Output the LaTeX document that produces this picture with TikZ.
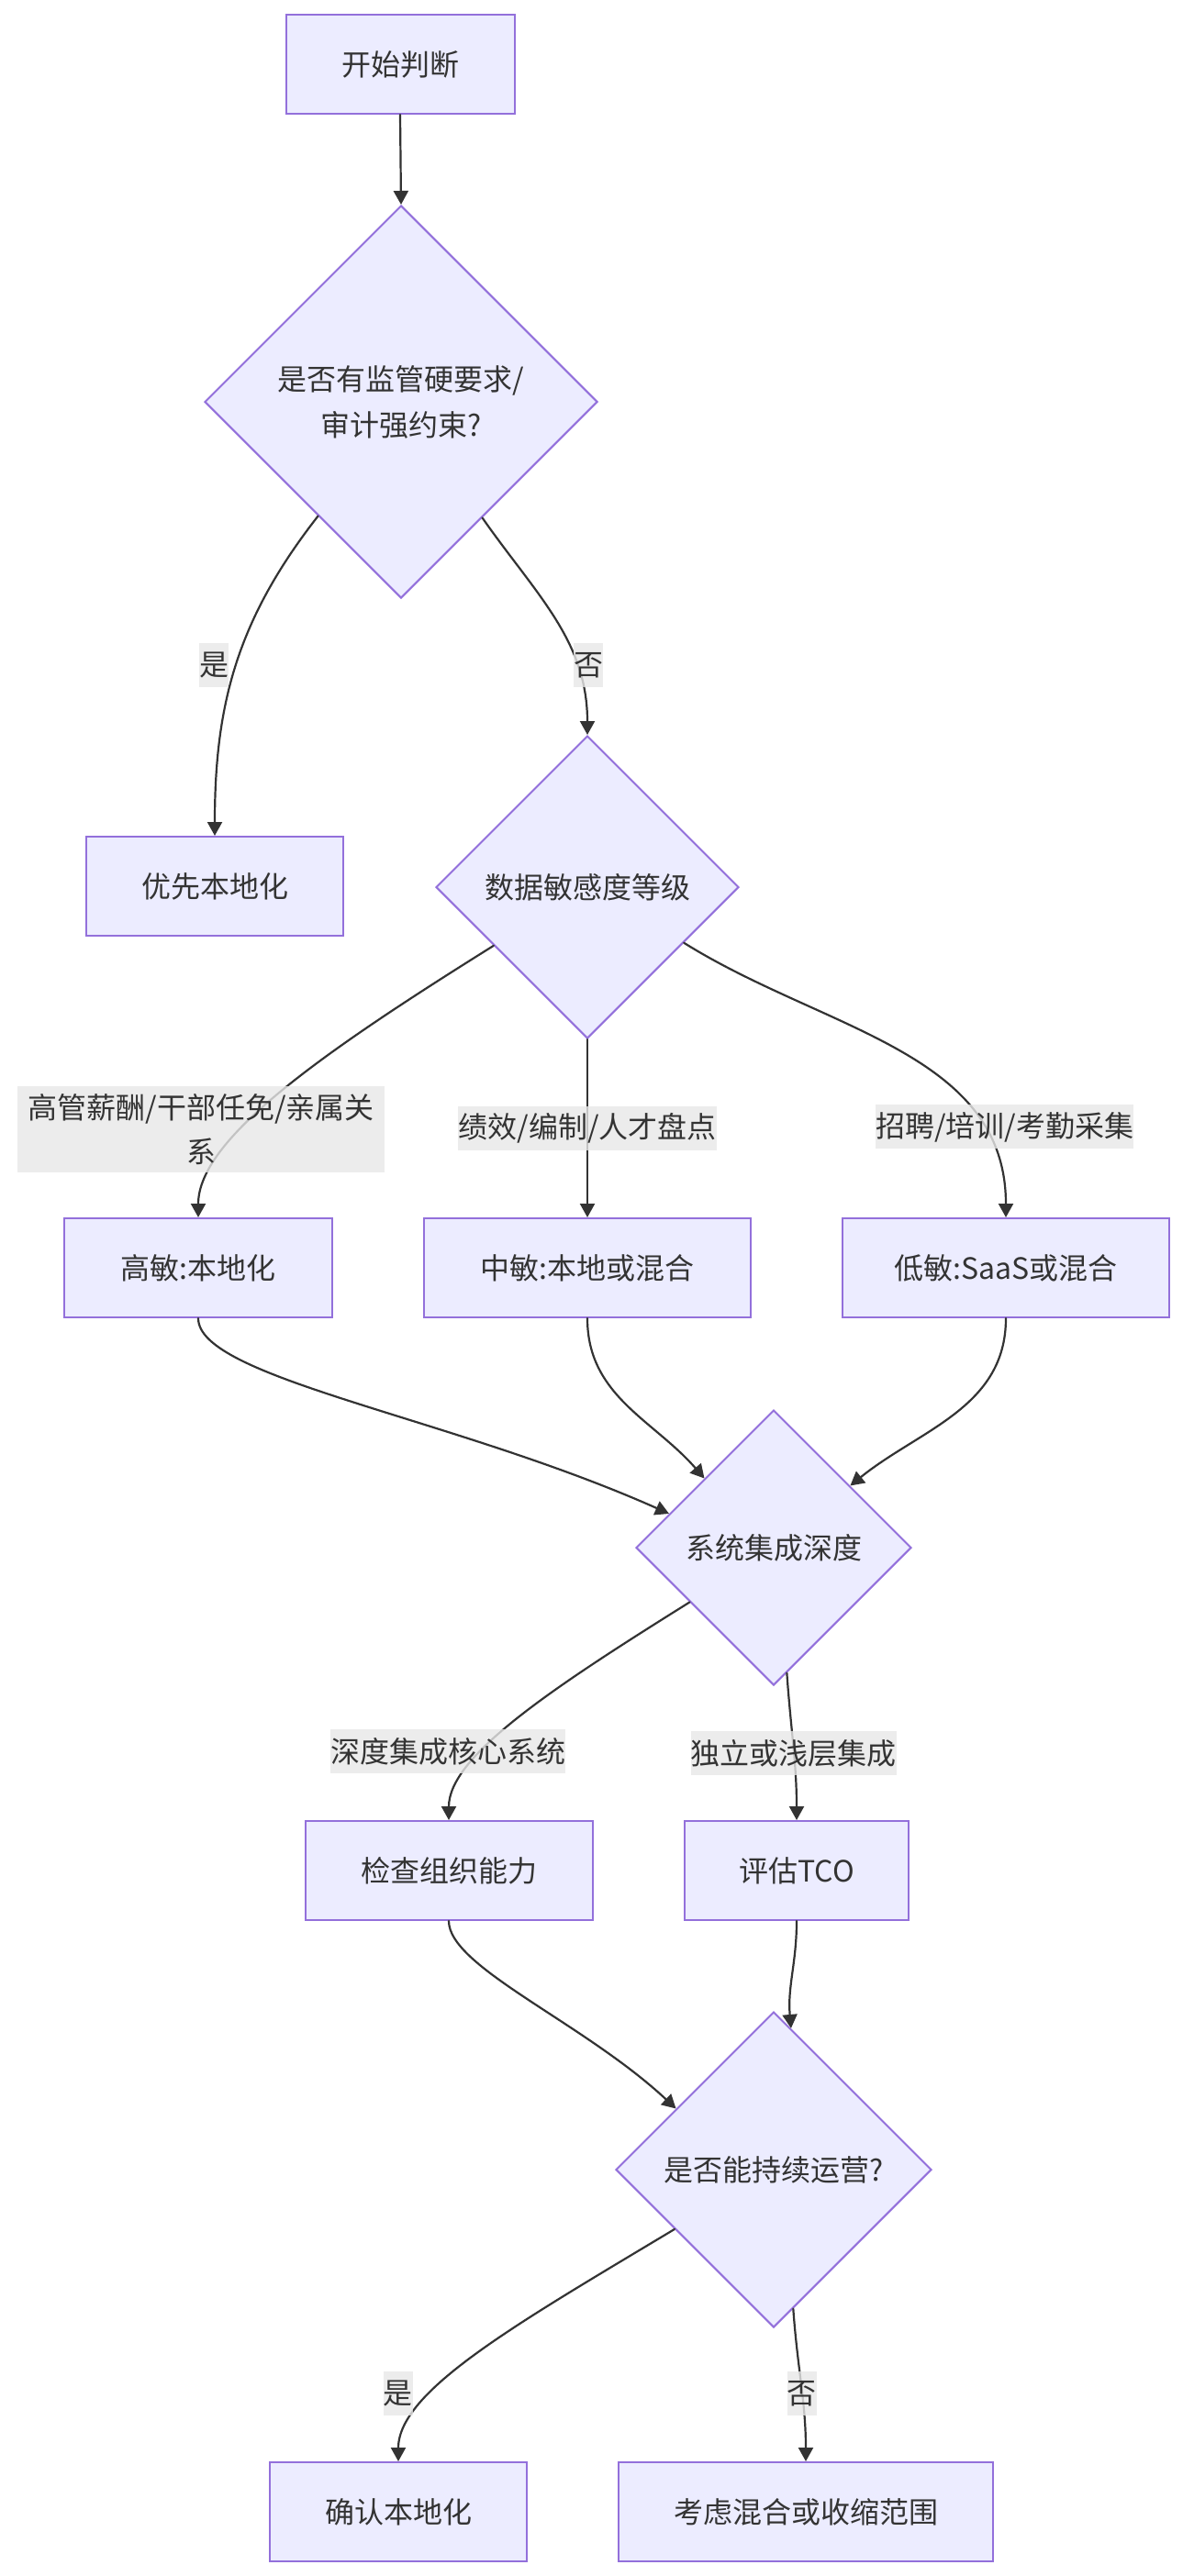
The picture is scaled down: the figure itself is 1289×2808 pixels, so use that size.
\documentclass[tikz,border=0pt]{standalone}
\usepackage{fontspec}
\setmainfont{Noto Sans CJK SC}
\usetikzlibrary{arrows.meta,shapes.geometric}
\definecolor{lavanda}{HTML}{ECECFF}
\definecolor{lila}{HTML}{9370DB}
\definecolor{tinta}{HTML}{333333}
\definecolor{fondo}{HTML}{E8E8E8}

\begin{document}
\begin{tikzpicture}[x=1pt,y=1pt,>={Triangle[length=15pt,width=16pt]},line cap=round,
    every node/.style={text=tinta,font=\fontsize{32}{50}\selectfont},
    caja/.style={draw=lila,fill=lavanda,line width=2pt,minimum height=108pt,inner sep=0pt},
    rombo/.style={diamond,aspect=1,draw=lila,fill=lavanda,line width=2pt,inner sep=0pt,align=center},
    flecha/.style={->,draw=tinta,line width=2.2pt},
    etiq/.style={fill=fondo,fill opacity=0.8,text opacity=1,inner sep=0pt,minimum height=48pt,
                 font=\fontsize{32}{48}\selectfont}]
        \fill[white] (0,0) rectangle (1289,-2808);
        \useasboundingbox (0,0) rectangle (1289,-2808);
        % cajas
        \foreach \n/\x/\y/\w/\t in {inicio/436/70/249/开始判断, local/234/966/280/优先本地化,
              alto/216/1382/292/高敏:本地化, medio/640/1382/356/中敏:本地或混合,
              bajo/1096/1382/356/低敏:SaaS或混合, org/489/2039/313/检查组织能力,
              tco/868/2039/244/评估TCO, confirma/434/2738/280/确认本地化,
              mixto/878/2738/408/考虑混合或收缩范围}{
          \node[caja,minimum width=\w pt] (\n) at (\x,-\y) {\t};
        }
        % rombos
        \node[rombo,minimum width=428pt,minimum height=428pt] (d1) at (437,-438) {是否有监管硬要求/\\审计强约束?};
        \node[rombo,minimum width=330pt,minimum height=330pt] (d2) at (640,-967) {数据敏感度等级};
        \node[rombo,minimum width=300pt,minimum height=300pt] (d3) at (843,-1687) {系统集成深度};
        \node[rombo,minimum width=344pt,minimum height=344pt] (d4) at (843,-2365) {是否能持续运营?};
        % flechas
        \draw[flecha] (inicio.south) -- (d1.north);
        \draw[flecha] (d1.234) to[out=-128,in=90] node[etiq,pos=0.5,xshift=-24pt]{是} (local.north);
        \draw[flecha] (d1.305) to[out=-55,in=90] node[etiq,pos=0.72,xshift=13pt]{否} (d2.north);
        \draw[flecha] (d2.212) to[out=-148,in=90,out looseness=1.3,in looseness=0.5]
          node[etiq,pos=0.64,xshift=-45pt,text width=400pt,align=center,inner ysep=8pt]{高管薪酬/干部任免/亲属关\\系} (alto.north);
        \draw[flecha] (d2.south) -- node[etiq]{绩效/编制/人才盘点} (medio.north);
        \draw[flecha] (d2.330) to[out=-32,in=90] node[etiq,pos=0.78,xshift=25pt]{招聘/培训/考勤采集} (bajo.north);
        \draw[flecha] (alto.south) to[out=-90,in=156,out looseness=0.3,in looseness=1.2] (d3.162);
        \draw[flecha] (medio.south) to[out=-90,in=131] (d3.135);
        \draw[flecha] (bajo.south) to[out=-90,in=39] (d3.39);
        \draw[flecha] (d3.213) to[out=-148,in=90,out looseness=1.3,in looseness=0.5]
          node[etiq,pos=0.65,xshift=-38pt]{深度集成核心系统} (org.north);
        \draw[flecha] (d3.276) to[out=-86,in=90] node[etiq,pos=0.55]{独立或浅层集成} (tco.north);
        \draw[flecha] (org.south) to[out=-90,in=137,out looseness=0.4,in looseness=1.1] (d4.148);
        \draw[flecha] (tco.south) to[out=-90,in=95] (d4.83);
        \draw[flecha] (d4.211) to[out=-149,in=90,out looseness=1.3,in looseness=0.5]
          node[etiq,pos=0.68,xshift=-37pt]{是} (confirma.north);
        \draw[flecha] (d4.278) to[out=-86,in=90] node[etiq,pos=0.56]{否} (mixto.north);
\end{tikzpicture}
\end{document}
